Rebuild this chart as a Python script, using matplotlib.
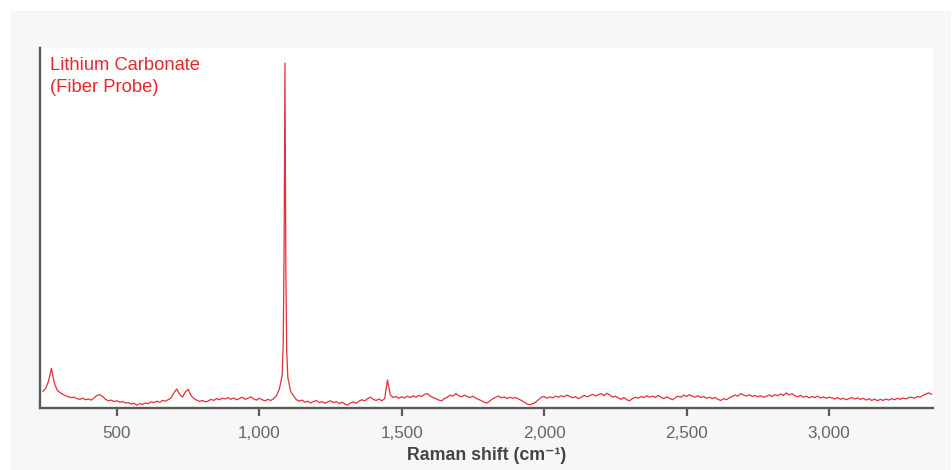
import numpy as np
import matplotlib
matplotlib.use('Agg')
import matplotlib.pyplot as plt
from matplotlib.patches import Rectangle

# Raman spectrum of lithium carbonate (fiber probe)
shift_low = np.arange(240, 1080, 10)
int_low = [
    4.6, 5.4, 7.5, 11.0, 7.0, 5.0, 4.3, 3.8, 3.4, 3.1,
    2.9, 3.0, 2.6, 2.4, 2.7, 2.3, 2.5, 2.2, 2.8, 3.5,
    3.7, 3.2, 2.4, 2.0, 2.2, 1.8, 2.0, 1.6, 1.8, 1.4,
    1.5, 1.1, 1.3, 0.8, 1.2, 1.0, 1.4, 1.2, 1.7, 1.5,
    1.9, 1.6, 2.1, 1.9, 2.3, 2.8, 4.2, 5.3, 3.8, 3.0,
    4.4, 5.2, 3.5, 2.6, 2.2, 1.8, 2.1, 1.7, 1.9, 2.4,
    2.1, 2.6, 2.3, 2.7, 2.5, 2.9, 2.4, 2.8, 2.3, 2.6,
    3.0, 2.4, 2.7, 3.1, 2.5, 2.2, 2.7, 2.3, 2.0, 2.4,
    2.1, 2.6, 3.4, 5.2,
]
shift_peak = [1080, 1084, 1087, 1090, 1093, 1096, 1100]
int_peak = [9.0, 18.0, 45.0, 95.8, 40.0, 16.0, 8.5]
shift_high = np.arange(1110, 3370, 10)
int_high = [
    4.6, 3.4, 2.3, 1.9, 2.2, 1.6, 1.9, 1.4, 1.8, 2.1,
    1.5, 1.8, 1.3, 1.7, 2.0, 1.5, 1.8, 1.2, 1.6, 1.1,
    0.8, 1.4, 1.7, 1.3, 1.9, 2.3, 2.0, 2.6, 3.0, 2.4,
    2.1, 2.5, 2.0, 2.6, 7.8, 3.6, 2.9, 3.2, 2.7, 3.1,
    2.8, 3.3, 2.9, 3.4, 3.0, 3.5, 3.2, 3.8, 4.0, 3.3,
    2.9, 2.6, 2.2, 2.0, 2.6, 3.0, 3.6, 3.3, 4.0, 3.4,
    3.1, 3.6, 3.2, 2.9, 3.3, 2.7, 2.4, 2.0, 1.6, 1.4,
    2.0, 2.6, 3.0, 3.3, 2.8, 3.1, 2.6, 3.0, 2.7, 2.9,
    2.5, 2.1, 1.6, 1.1, 0.9, 1.2, 1.6, 2.3, 3.0, 3.2,
    2.7, 3.1, 2.8, 3.3, 3.0, 3.4, 3.1, 3.6, 3.2, 2.8,
    3.2, 2.6, 3.0, 3.5, 3.1, 3.4, 3.8, 3.3, 3.7, 4.0,
    3.4, 4.1, 3.6, 3.0, 3.3, 2.8, 2.4, 2.9, 2.3, 2.0,
    2.6, 3.0, 2.7, 3.2, 2.9, 3.4, 3.0, 3.3, 2.9, 3.5,
    3.0, 2.6, 3.1, 2.7, 2.3, 2.8, 3.3, 3.0, 3.6, 3.2,
    3.7, 3.3, 3.0, 3.4, 2.9, 3.2, 2.7, 3.0, 2.6, 2.9,
    2.4, 2.1, 2.6, 2.3, 2.8, 3.2, 3.6, 3.3, 4.0, 3.6,
    3.3, 3.7, 3.2, 3.5, 3.1, 3.4, 3.0, 3.3, 3.6, 3.2,
    3.7, 3.4, 3.9, 3.5, 4.2, 3.6, 4.0, 3.4, 3.1, 3.5,
    3.0, 3.3, 2.8, 3.2, 2.9, 3.3, 2.8, 3.1, 2.7, 3.0,
    2.8, 2.5, 2.9, 2.4, 2.7, 2.3, 2.6, 2.9, 2.5, 2.8,
    2.4, 2.7, 2.2, 2.6, 2.1, 2.5, 2.0, 2.4, 2.1, 2.5,
    2.2, 2.6, 2.3, 2.7, 2.4, 2.8, 2.5, 2.9, 3.0, 2.7,
    3.2, 3.0, 3.5, 3.9, 4.2, 3.8,
]
shift = np.concatenate([shift_low, shift_peak, shift_high])
intensity = np.concatenate([int_low, int_peak, int_high])

xticks = [500, 1000, 1500, 2000, 2500, 3000]
xticklabels = ['500', '1,000', '1,500', '2,000', '2,500', '3,000']

C_LINE = '#e3303a'
C_TEXT = '#e8262e'
C_AXIS = '#5a5a5a'

plt.rcParams['font.family'] = ['Liberation Sans', 'DejaVu Sans']

fig = plt.figure(figsize=(9.52, 4.70), dpi=100, facecolor='white')
fig.patches.append(Rectangle((10 / 952, 0), 941 / 952, 459 / 470,
                             transform=fig.transFigure, facecolor='#f7f7f7',
                             edgecolor='none', zorder=-10))

ax = fig.add_axes([40 / 952, 62 / 470, 893 / 952, 360 / 470])
ax.set_zorder(5)
ax.set_facecolor('white')
ax.plot(shift, intensity, color=C_LINE, linewidth=0.9, solid_joinstyle='round')

ax.set_xlim(230, 3365)
ax.set_ylim(0, 100)
ax.set_yticks([])
ax.set_xticks(xticks)
ax.set_xticklabels(xticklabels, fontsize=12.3, color='#666666')
ax.tick_params(axis='x', direction='out', length=6, width=1.6, color=C_AXIS, pad=7)

for s in ['top', 'right']:
    ax.spines[s].set_visible(False)
for s in ['left', 'bottom']:
    ax.spines[s].set_color(C_AXIS)
    ax.spines[s].set_linewidth(1.7)

ax.text(0.0112, 0.975, 'Lithium Carbonate\n(Fiber Probe)', transform=ax.transAxes,
        ha='left', va='top', fontsize=13.2, color=C_TEXT, linespacing=1.42)

ax.set_xlabel('Raman shift (cm⁻¹)', fontsize=12.8, fontweight='bold',
              color='#444444', labelpad=4)

plt.savefig('out.png', dpi=100, facecolor='white')
